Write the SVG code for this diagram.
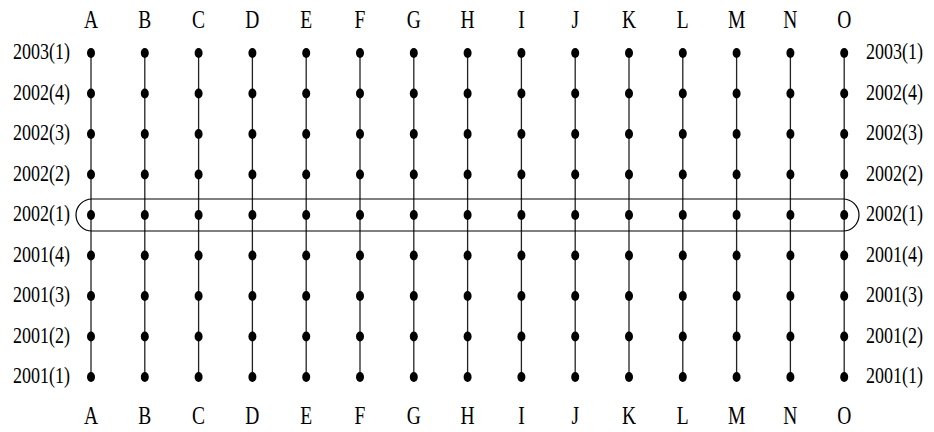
<svg xmlns="http://www.w3.org/2000/svg" width="934" height="432" viewBox="0 0 934 432">
<style>
text{font-family:"Liberation Serif","DejaVu Serif",serif;font-size:18px;fill:#000}
.l{text-anchor:end}
.c{text-anchor:middle;font-size:19.5px}
.v{stroke:#222;stroke-width:1.3}
.d{fill:#000}
.box{fill:none;stroke:#000;stroke-width:1.2}
</style>
<defs>
<ellipse id="dot" rx="4" ry="5" class="d"/>
</defs>
<rect width="934" height="432" fill="#fff"/>
<g id="connectors">
<line class="v" x1="91" y1="53" x2="91" y2="377"/>
<line class="v" x1="144.8" y1="53" x2="144.8" y2="377"/>
<line class="v" x1="198.6" y1="53" x2="198.6" y2="377"/>
<line class="v" x1="252.4" y1="53" x2="252.4" y2="377"/>
<line class="v" x1="306.2" y1="53" x2="306.2" y2="377"/>
<line class="v" x1="360" y1="53" x2="360" y2="377"/>
<line class="v" x1="413.8" y1="53" x2="413.8" y2="377"/>
<line class="v" x1="467.6" y1="53" x2="467.6" y2="377"/>
<line class="v" x1="521.4" y1="53" x2="521.4" y2="377"/>
<line class="v" x1="575.2" y1="53" x2="575.2" y2="377"/>
<line class="v" x1="629" y1="53" x2="629" y2="377"/>
<line class="v" x1="682.8" y1="53" x2="682.8" y2="377"/>
<line class="v" x1="736.6" y1="53" x2="736.6" y2="377"/>
<line class="v" x1="790.4" y1="53" x2="790.4" y2="377"/>
<line class="v" x1="844.2" y1="53" x2="844.2" y2="377"/>
</g>
<g id="highlight">
<rect class="box" x="76" y="199" width="783" height="32" rx="16" ry="16"/>
</g>
<g id="dots">
<g id="col-A"><use href="#dot" x="91" y="53"/><use href="#dot" x="91" y="93.5"/><use href="#dot" x="91" y="134"/><use href="#dot" x="91" y="174.5"/><use href="#dot" x="91" y="215"/><use href="#dot" x="91" y="255.5"/><use href="#dot" x="91" y="296"/><use href="#dot" x="91" y="336.5"/><use href="#dot" x="91" y="377"/></g>
<g id="col-B"><use href="#dot" x="144.8" y="53"/><use href="#dot" x="144.8" y="93.5"/><use href="#dot" x="144.8" y="134"/><use href="#dot" x="144.8" y="174.5"/><use href="#dot" x="144.8" y="215"/><use href="#dot" x="144.8" y="255.5"/><use href="#dot" x="144.8" y="296"/><use href="#dot" x="144.8" y="336.5"/><use href="#dot" x="144.8" y="377"/></g>
<g id="col-C"><use href="#dot" x="198.6" y="53"/><use href="#dot" x="198.6" y="93.5"/><use href="#dot" x="198.6" y="134"/><use href="#dot" x="198.6" y="174.5"/><use href="#dot" x="198.6" y="215"/><use href="#dot" x="198.6" y="255.5"/><use href="#dot" x="198.6" y="296"/><use href="#dot" x="198.6" y="336.5"/><use href="#dot" x="198.6" y="377"/></g>
<g id="col-D"><use href="#dot" x="252.4" y="53"/><use href="#dot" x="252.4" y="93.5"/><use href="#dot" x="252.4" y="134"/><use href="#dot" x="252.4" y="174.5"/><use href="#dot" x="252.4" y="215"/><use href="#dot" x="252.4" y="255.5"/><use href="#dot" x="252.4" y="296"/><use href="#dot" x="252.4" y="336.5"/><use href="#dot" x="252.4" y="377"/></g>
<g id="col-E"><use href="#dot" x="306.2" y="53"/><use href="#dot" x="306.2" y="93.5"/><use href="#dot" x="306.2" y="134"/><use href="#dot" x="306.2" y="174.5"/><use href="#dot" x="306.2" y="215"/><use href="#dot" x="306.2" y="255.5"/><use href="#dot" x="306.2" y="296"/><use href="#dot" x="306.2" y="336.5"/><use href="#dot" x="306.2" y="377"/></g>
<g id="col-F"><use href="#dot" x="360" y="53"/><use href="#dot" x="360" y="93.5"/><use href="#dot" x="360" y="134"/><use href="#dot" x="360" y="174.5"/><use href="#dot" x="360" y="215"/><use href="#dot" x="360" y="255.5"/><use href="#dot" x="360" y="296"/><use href="#dot" x="360" y="336.5"/><use href="#dot" x="360" y="377"/></g>
<g id="col-G"><use href="#dot" x="413.8" y="53"/><use href="#dot" x="413.8" y="93.5"/><use href="#dot" x="413.8" y="134"/><use href="#dot" x="413.8" y="174.5"/><use href="#dot" x="413.8" y="215"/><use href="#dot" x="413.8" y="255.5"/><use href="#dot" x="413.8" y="296"/><use href="#dot" x="413.8" y="336.5"/><use href="#dot" x="413.8" y="377"/></g>
<g id="col-H"><use href="#dot" x="467.6" y="53"/><use href="#dot" x="467.6" y="93.5"/><use href="#dot" x="467.6" y="134"/><use href="#dot" x="467.6" y="174.5"/><use href="#dot" x="467.6" y="215"/><use href="#dot" x="467.6" y="255.5"/><use href="#dot" x="467.6" y="296"/><use href="#dot" x="467.6" y="336.5"/><use href="#dot" x="467.6" y="377"/></g>
<g id="col-I"><use href="#dot" x="521.4" y="53"/><use href="#dot" x="521.4" y="93.5"/><use href="#dot" x="521.4" y="134"/><use href="#dot" x="521.4" y="174.5"/><use href="#dot" x="521.4" y="215"/><use href="#dot" x="521.4" y="255.5"/><use href="#dot" x="521.4" y="296"/><use href="#dot" x="521.4" y="336.5"/><use href="#dot" x="521.4" y="377"/></g>
<g id="col-J"><use href="#dot" x="575.2" y="53"/><use href="#dot" x="575.2" y="93.5"/><use href="#dot" x="575.2" y="134"/><use href="#dot" x="575.2" y="174.5"/><use href="#dot" x="575.2" y="215"/><use href="#dot" x="575.2" y="255.5"/><use href="#dot" x="575.2" y="296"/><use href="#dot" x="575.2" y="336.5"/><use href="#dot" x="575.2" y="377"/></g>
<g id="col-K"><use href="#dot" x="629" y="53"/><use href="#dot" x="629" y="93.5"/><use href="#dot" x="629" y="134"/><use href="#dot" x="629" y="174.5"/><use href="#dot" x="629" y="215"/><use href="#dot" x="629" y="255.5"/><use href="#dot" x="629" y="296"/><use href="#dot" x="629" y="336.5"/><use href="#dot" x="629" y="377"/></g>
<g id="col-L"><use href="#dot" x="682.8" y="53"/><use href="#dot" x="682.8" y="93.5"/><use href="#dot" x="682.8" y="134"/><use href="#dot" x="682.8" y="174.5"/><use href="#dot" x="682.8" y="215"/><use href="#dot" x="682.8" y="255.5"/><use href="#dot" x="682.8" y="296"/><use href="#dot" x="682.8" y="336.5"/><use href="#dot" x="682.8" y="377"/></g>
<g id="col-M"><use href="#dot" x="736.6" y="53"/><use href="#dot" x="736.6" y="93.5"/><use href="#dot" x="736.6" y="134"/><use href="#dot" x="736.6" y="174.5"/><use href="#dot" x="736.6" y="215"/><use href="#dot" x="736.6" y="255.5"/><use href="#dot" x="736.6" y="296"/><use href="#dot" x="736.6" y="336.5"/><use href="#dot" x="736.6" y="377"/></g>
<g id="col-N"><use href="#dot" x="790.4" y="53"/><use href="#dot" x="790.4" y="93.5"/><use href="#dot" x="790.4" y="134"/><use href="#dot" x="790.4" y="174.5"/><use href="#dot" x="790.4" y="215"/><use href="#dot" x="790.4" y="255.5"/><use href="#dot" x="790.4" y="296"/><use href="#dot" x="790.4" y="336.5"/><use href="#dot" x="790.4" y="377"/></g>
<g id="col-O"><use href="#dot" x="844.2" y="53"/><use href="#dot" x="844.2" y="93.5"/><use href="#dot" x="844.2" y="134"/><use href="#dot" x="844.2" y="174.5"/><use href="#dot" x="844.2" y="215"/><use href="#dot" x="844.2" y="255.5"/><use href="#dot" x="844.2" y="296"/><use href="#dot" x="844.2" y="336.5"/><use href="#dot" x="844.2" y="377"/></g>
</g>
<g id="top-labels">
<text class="c" transform="translate(91,28) scale(1,1.25)">A</text>
<text class="c" transform="translate(144.8,28) scale(1,1.25)">B</text>
<text class="c" transform="translate(198.6,28) scale(1,1.25)">C</text>
<text class="c" transform="translate(252.4,28) scale(1,1.25)">D</text>
<text class="c" transform="translate(306.2,28) scale(1,1.25)">E</text>
<text class="c" transform="translate(360,28) scale(1,1.25)">F</text>
<text class="c" transform="translate(413.8,28) scale(1,1.25)">G</text>
<text class="c" transform="translate(467.6,28) scale(1,1.25)">H</text>
<text class="c" transform="translate(521.4,28) scale(1,1.25)">I</text>
<text class="c" transform="translate(575.2,28) scale(1,1.25)">J</text>
<text class="c" transform="translate(629,28) scale(1,1.25)">K</text>
<text class="c" transform="translate(682.8,28) scale(1,1.25)">L</text>
<text class="c" transform="translate(736.6,28) scale(1,1.25)">M</text>
<text class="c" transform="translate(790.4,28) scale(1,1.25)">N</text>
<text class="c" transform="translate(844.2,28) scale(1,1.25)">O</text>
</g>
<g id="bottom-labels">
<text class="c" transform="translate(91,424) scale(1,1.25)">A</text>
<text class="c" transform="translate(144.8,424) scale(1,1.25)">B</text>
<text class="c" transform="translate(198.6,424) scale(1,1.25)">C</text>
<text class="c" transform="translate(252.4,424) scale(1,1.25)">D</text>
<text class="c" transform="translate(306.2,424) scale(1,1.25)">E</text>
<text class="c" transform="translate(360,424) scale(1,1.25)">F</text>
<text class="c" transform="translate(413.8,424) scale(1,1.25)">G</text>
<text class="c" transform="translate(467.6,424) scale(1,1.25)">H</text>
<text class="c" transform="translate(521.4,424) scale(1,1.25)">I</text>
<text class="c" transform="translate(575.2,424) scale(1,1.25)">J</text>
<text class="c" transform="translate(629,424) scale(1,1.25)">K</text>
<text class="c" transform="translate(682.8,424) scale(1,1.25)">L</text>
<text class="c" transform="translate(736.6,424) scale(1,1.25)">M</text>
<text class="c" transform="translate(790.4,424) scale(1,1.25)">N</text>
<text class="c" transform="translate(844.2,424) scale(1,1.25)">O</text>
</g>
<g id="left-labels">
<text class="l" transform="translate(70,59) scale(1,1.25)">2003(1)</text>
<text class="l" transform="translate(70,99.5) scale(1,1.25)">2002(4)</text>
<text class="l" transform="translate(70,140) scale(1,1.25)">2002(3)</text>
<text class="l" transform="translate(70,180.5) scale(1,1.25)">2002(2)</text>
<text class="l" transform="translate(70,221) scale(1,1.25)">2002(1)</text>
<text class="l" transform="translate(70,261.5) scale(1,1.25)">2001(4)</text>
<text class="l" transform="translate(70,302) scale(1,1.25)">2001(3)</text>
<text class="l" transform="translate(70,342.5) scale(1,1.25)">2001(2)</text>
<text class="l" transform="translate(70,383) scale(1,1.25)">2001(1)</text>
</g>
<g id="right-labels">
<text transform="translate(866,59) scale(1,1.25)">2003(1)</text>
<text transform="translate(866,99.5) scale(1,1.25)">2002(4)</text>
<text transform="translate(866,140) scale(1,1.25)">2002(3)</text>
<text transform="translate(866,180.5) scale(1,1.25)">2002(2)</text>
<text transform="translate(866,221) scale(1,1.25)">2002(1)</text>
<text transform="translate(866,261.5) scale(1,1.25)">2001(4)</text>
<text transform="translate(866,302) scale(1,1.25)">2001(3)</text>
<text transform="translate(866,342.5) scale(1,1.25)">2001(2)</text>
<text transform="translate(866,383) scale(1,1.25)">2001(1)</text>
</g>
</svg>
